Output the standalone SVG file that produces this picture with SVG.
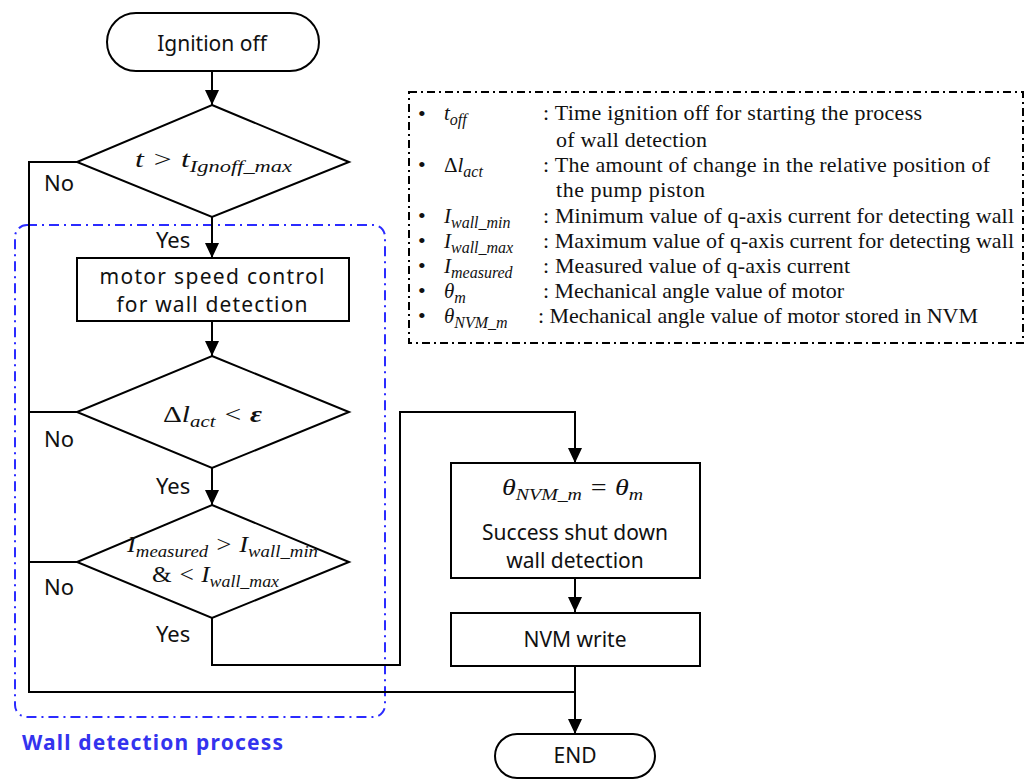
<svg xmlns="http://www.w3.org/2000/svg" width="1029" height="780" viewBox="0 0 1029 780">
<defs>
<marker id="arr" markerWidth="15" markerHeight="14" refX="15" refY="7" orient="auto" markerUnits="userSpaceOnUse">
<path d="M0,0 L15,7 L0,14 Z" fill="#000"/>
</marker>
<style>
.shape{fill:#fff;stroke:#000;stroke-width:2}
.conn{fill:none;stroke:#000;stroke-width:2}
.lbl{font-family:"Noto Sans","Open Sans",sans-serif;font-size:21px;fill:#111}
.yn{font-family:"Noto Sans","Open Sans",sans-serif;font-size:22px;fill:#111}
.math{font-family:"Liberation Serif",serif;font-style:italic;font-size:24px;fill:#111}
.sub{font-size:17px}
.lsub{font-size:16px}
.leg{font-family:"Liberation Serif",serif;font-size:22px;fill:#111}
.legm{font-family:"Liberation Serif",serif;font-style:italic;font-size:21px;fill:#111}
.up{font-style:normal}
</style>
</defs>
<rect width="1029" height="780" fill="#fff"/>

<g id="wall-process">
<rect x="15" y="225" width="370" height="492" rx="12" fill="none" stroke="#2b2bff" stroke-width="2" stroke-dasharray="10 5 2 5"/>
<text x="22" y="750" font-family="Noto Sans, sans-serif" font-weight="bold" font-size="21" fill="#3333ee" textLength="261">Wall detection process</text>
</g>

<g id="connectors">
<path class="conn" d="M212,71 V105" marker-end="url(#arr)"/>
<path class="conn" d="M212,217 V258" marker-end="url(#arr)"/>
<path class="conn" d="M212,321 V356" marker-end="url(#arr)"/>
<path class="conn" d="M212,468 V505" marker-end="url(#arr)"/>
<path class="conn" d="M212,618 V665 H400 V412 H575 V463" marker-end="url(#arr)"/>
<path class="conn" d="M575,578 V612" marker-end="url(#arr)"/>
<path class="conn" d="M575,666 V734" marker-end="url(#arr)"/>
<path class="conn" d="M77,162 H29 V692 H575"/>
<path class="conn" d="M77,412 H29"/>
<path class="conn" d="M77,562 H29"/>
<text class="yn" x="44" y="191">No</text>
<text class="yn" x="156" y="248">Yes</text>
<text class="yn" x="44" y="447">No</text>
<text class="yn" x="156" y="494">Yes</text>
<text class="yn" x="44" y="595">No</text>
<text class="yn" x="156" y="642">Yes</text>
</g>

<g id="ignition-off">
<rect class="shape" x="107" y="13" width="212" height="58" rx="29"/>
<text class="lbl" x="212" y="51" text-anchor="middle" font-size="22.5">Ignition off</text>
</g>

<g id="check-time">
<polygon class="shape" points="212,105 349,162 212,217 77,162"/>
<text class="math" x="135" y="167" textLength="157" lengthAdjust="spacingAndGlyphs">t &gt; t<tspan class="sub" dy="5">Ignoff_max</tspan></text>
</g>

<g id="motor-speed">
<rect class="shape" x="77" y="258" width="272" height="63"/>
<text class="lbl" x="212" y="284" text-anchor="middle" font-size="22" textLength="225">motor speed control</text>
<text class="lbl" x="212" y="312" text-anchor="middle" font-size="22" textLength="191">for wall detection</text>
</g>

<g id="check-position">
<polygon class="shape" points="212,356 349,412 212,468 77,412"/>
<text class="math" x="163" y="422" textLength="99" lengthAdjust="spacingAndGlyphs"><tspan class="up">Δ</tspan>l<tspan class="sub" dy="5">act</tspan><tspan dy="-5"> &lt; </tspan><tspan font-weight="bold">ε</tspan></text>
</g>

<g id="check-current">
<polygon class="shape" points="212,505 349,562 212,618 77,562"/>
<text class="math" x="127" y="552" textLength="191" lengthAdjust="spacingAndGlyphs">I<tspan class="sub" dy="5">measured</tspan><tspan dy="-5"> &gt; I</tspan><tspan class="sub" dy="5">wall_min</tspan></text>
<text class="math" x="152" y="582" textLength="127" lengthAdjust="spacingAndGlyphs"><tspan class="up">&amp;</tspan> &lt; I<tspan class="sub" dy="5">wall_max</tspan></text>
</g>

<g id="success">
<rect class="shape" x="451" y="463" width="249" height="115"/>
<text class="math" x="502" y="495" textLength="141" lengthAdjust="spacingAndGlyphs">θ<tspan class="sub" dy="5">NVM_m</tspan><tspan dy="-5"> = θ</tspan><tspan class="sub" dy="5">m</tspan></text>
<text class="lbl" x="575" y="540" text-anchor="middle">Success shut down</text>
<text class="lbl" x="575" y="568" text-anchor="middle">wall detection</text>
</g>

<g id="nvm-write">
<rect class="shape" x="451" y="613" width="249" height="53"/>
<text class="lbl" x="575" y="647" text-anchor="middle">NVM write</text>
</g>

<g id="end">
<rect class="shape" x="495" y="734" width="160" height="44" rx="22"/>
<text class="lbl" x="575" y="763" text-anchor="middle">END</text>
</g>

<g id="legend">
<rect x="409" y="92" width="614" height="251" fill="none" stroke="#000" stroke-width="2" stroke-dasharray="8 4 2 4"/>
<g class="leg" font-size="20">
<text x="418" y="121">•</text>
<text x="418" y="172">•</text>
<text x="418" y="223">•</text>
<text x="418" y="248">•</text>
<text x="418" y="273">•</text>
<text x="418" y="298">•</text>
<text x="418" y="323">•</text>
</g>
<text class="legm" x="444" y="120">t<tspan class="lsub" dy="5">off</tspan></text>
<text class="legm" x="444" y="172"><tspan class="up">Δ</tspan>l<tspan class="lsub" dy="5">act</tspan></text>
<text class="legm" x="444" y="223">I<tspan class="lsub" dy="5">wall_min</tspan></text>
<text class="legm" x="444" y="248">I<tspan class="lsub" dy="5">wall_max</tspan></text>
<text class="legm" x="444" y="273">I<tspan class="lsub" dy="5">measured</tspan></text>
<text class="legm" x="444" y="298">θ<tspan class="lsub" dy="5">m</tspan></text>
<text class="legm" x="444" y="323">θ<tspan class="lsub" dy="5">NVM_m</tspan></text>
<text class="leg" x="543" y="120" textLength="379">: Time ignition off for starting the process</text>
<text class="leg" x="556" y="147" textLength="151">of wall detection</text>
<text class="leg" x="543" y="172" textLength="447">: The amount of change in the relative position of</text>
<text class="leg" x="556" y="197" textLength="149">the pump piston</text>
<text class="leg" x="543" y="223" textLength="471">: Minimum value of q-axis current for detecting wall</text>
<text class="leg" x="543" y="248" textLength="471">: Maximum value of q-axis current for detecting wall</text>
<text class="leg" x="543" y="273" textLength="307">: Measured value of q-axis current</text>
<text class="leg" x="543" y="298" textLength="301">: Mechanical angle value of motor</text>
<text class="leg" x="538" y="323" textLength="440">: Mechanical angle value of motor stored in NVM</text>
</g>
</svg>
